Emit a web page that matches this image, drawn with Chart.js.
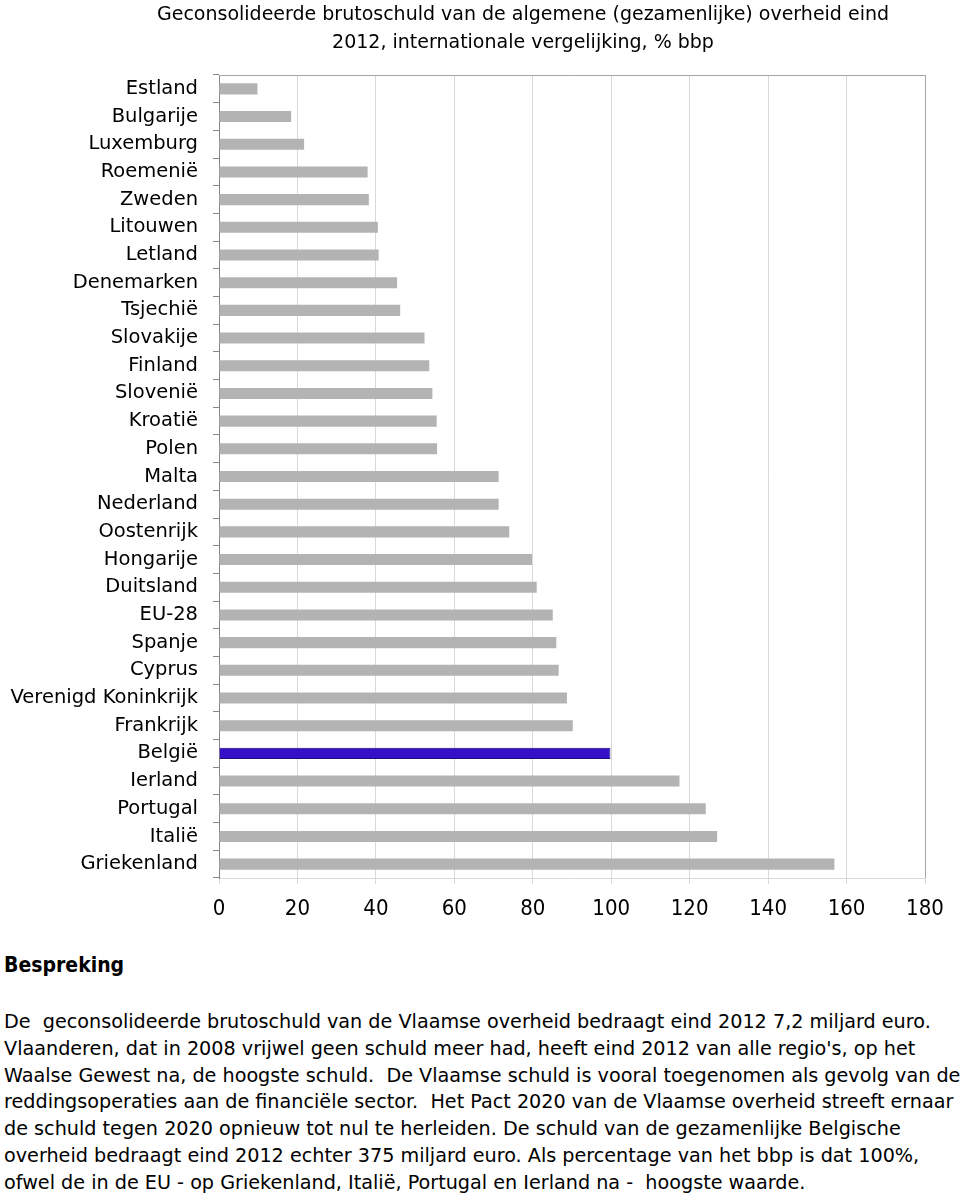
<!DOCTYPE html>
<html>
<head>
<meta charset="utf-8">
<script src="https://cdn.jsdelivr.net/npm/chart.js@4/dist/chart.umd.min.js"></script>
<style>
  body { margin: 0; background: #fff; overflow: hidden; }
  #wrap { position: relative; width: 960px; height: 1195px; }
  #debtChart { position: absolute; left: 0; top: 0; }
  .txt { position: absolute; font-family: "DejaVu Sans", sans-serif; color: #000; }
  #title { left: 123px; top: -1px; width: 800px; text-align: center; font-size: 19px; line-height: 28px; }
  #head { left: 4px; top: 952px; font-family: "DejaVu Sans Condensed", "DejaVu Sans", sans-serif; font-size: 21px; line-height: 26px; font-weight: bold; }
  #para { left: 4px; top: 1009px; font-size: 19.2px; line-height: 26.8px; white-space: pre; }
</style>
</head>
<body>
<div id="wrap">
  <canvas id="debtChart" width="960" height="930"></canvas>
  <div class="txt" id="title">Geconsolideerde brutoschuld van de algemene (gezamenlijke) overheid eind<br>2012, internationale vergelijking, % bbp</div>
  <div class="txt" id="head">Bespreking</div>
  <div class="txt" id="para">De  geconsolideerde brutoschuld van de Vlaamse overheid bedraagt eind 2012 7,2 miljard euro.
Vlaanderen, dat in 2008 vrijwel geen schuld meer had, heeft eind 2012 van alle regio's, op het
Waalse Gewest na, de hoogste schuld.  De Vlaamse schuld is vooral toegenomen als gevolg van de
reddingsoperaties aan de financiële sector.  Het Pact 2020 van de Vlaamse overheid streeft ernaar
de schuld tegen 2020 opnieuw tot nul te herleiden. De schuld van de gezamenlijke Belgische
overheid bedraagt eind 2012 echter 375 miljard euro. Als percentage van het bbp is dat 100%,
ofwel de in de EU - op Griekenland, Italië, Portugal en Ierland na -  hoogste waarde.</div>
</div>
<script>
const countries = [
  "Estland", "Bulgarije", "Luxemburg", "Roemenië", "Zweden", "Litouwen",
  "Letland", "Denemarken", "Tsjechië", "Slovakije", "Finland", "Slovenië",
  "Kroatië", "Polen", "Malta", "Nederland", "Oostenrijk", "Hongarije",
  "Duitsland", "EU-28", "Spanje", "Cyprus", "Verenigd Koninkrijk",
  "Frankrijk", "België", "Ierland", "Portugal", "Italië", "Griekenland",
];
const debtValues = [
  9.8, 18.4, 21.7, 37.9, 38.2, 40.5,
  40.7, 45.4, 46.2, 52.4, 53.6, 54.4,
  55.5, 55.6, 71.3, 71.3, 74.0, 79.8,
  81.0, 85.1, 86.0, 86.6, 88.7,
  90.2, 99.8, 117.4, 124.1, 127.0, 156.9,
];
const highlighted = "België";
const axisMin = 0;
const axisMax = 180;
const axisStep = 20;

// top and right frame of the plot area
const frameLines = {
  id: "frameLines",
  afterDraw(chart) {
    const a = chart.chartArea;
    const ctx = chart.ctx;
    ctx.save();
    ctx.strokeStyle = "#a6a6a6";
    ctx.lineWidth = 1;
    ctx.beginPath();
    ctx.moveTo(a.left, a.top + 0.5);
    ctx.lineTo(a.right + 0.5, a.top + 0.5);
    ctx.lineTo(a.right + 0.5, a.bottom);
    ctx.stroke();
    ctx.restore();
  },
};

new Chart(document.getElementById("debtChart").getContext("2d"), {
  type: "bar",
  data: {
    labels: countries,
    datasets: [
      {
        data: debtValues,
        backgroundColor: countries.map((c) => (c === highlighted ? "#3510c8" : "#b3b3b3")),
        borderColor: countries.map((c) => (c === highlighted ? "#1c0a78" : "#b3b3b3")),
        borderWidth: countries.map((c) => (c === highlighted ? 1 : 0)),
        categoryPercentage: 1,
        barPercentage: 0.4,
      },
    ],
  },
  options: {
    indexAxis: "y",
    responsive: false,
    devicePixelRatio: 1,
    animation: false,
    layout: { padding: { top: 75, right: 35, left: 0, bottom: 0 } },
    plugins: {
      legend: { display: false },
      tooltip: { enabled: false },
    },
    scales: {
      x: {
        min: axisMin,
        max: axisMax,
        afterFit: (scale) => { scale.height = 52; },
        ticks: {
          stepSize: axisStep,
          color: "#000",
          padding: 12,
          font: { family: '"DejaVu Sans Condensed", "DejaVu Sans", sans-serif', size: 22 },
        },
        grid: { color: "#d9d9d9", tickLength: 6, drawTicks: true },
        border: { color: "#d9d9d9" },
      },
      y: {
        afterFit: (scale) => { scale.width = 219; },
        ticks: {
          color: "#000",
          padding: 15,
          autoSkip: false,
          font: { family: '"DejaVu Sans", sans-serif', size: 19.5 },
        },
        grid: { drawOnChartArea: false, offset: true, tickLength: 6, color: "#868686" },
        border: { color: "#868686" },
      },
    },
  },
  plugins: [frameLines],
});
</script>
</body>
</html>
